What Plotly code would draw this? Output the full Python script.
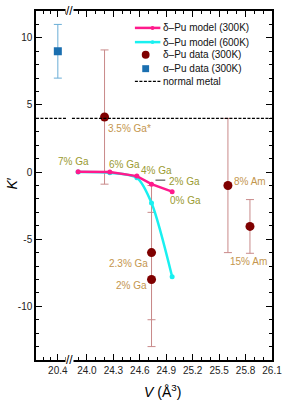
import plotly.graph_objects as go

# ---------------- data ----------------
# delta-Pu model curves (volume in A^3, K')
model_v = [23.9, 24.26, 24.567, 24.733, 24.967]
model_300k = [0.02, 0.0, -0.3, -0.9, -1.46]
model_600k = [0.0, -0.05, -0.42, -2.3, -7.8]
model_labels = ["7% Ga", "6% Ga", "4% Ga", "2% Ga", "0% Ga"]

# delta-Pu data (300K)
dpu_v = [24.2, 24.733, 24.733, 25.6, 25.85]
dpu_k = [4.1, -6.0, -8.0, -1.0, -4.05]
dpu_err = [5.0, 5.0, 5.0, 5.0, 2.0]
dpu_labels = ["3.5% Ga*", "2.3% Ga", "2% Ga", "8% Am", "15% Am"]

# alpha-Pu data (300K)
apu_v = [20.4]
apu_k = [9.0]
apu_err = [2.0]

normal_metal_k = 4.0

x_ticks_right = [24.0, 24.3, 24.6, 24.9, 25.2, 25.5, 25.8, 26.1]
x_ticks_left = [20.4]
y_ticks = [-10, -5, 0, 5, 10]

# ---------------- styling ----------------
PINK = "#ff1a8c"
CYAN = "#19f0f0"
DRED = "#7f0000"
DRED_ERR = "#c98a8a"
BLUE = "#1a6fb0"
BLUE_ERR = "#6aaed6"
OLIVE = "#9a9a30"
TAN = "#c4964e"
FONT = "Liberation Sans, Arial, sans-serif"
DASH = "3px,1.5px"

W, H = 291, 401
ML, MR, MT, MB = 36, 14, 9, 41
PW, PH = W - ML - MR, H - MT - MB
BREAK = 34 / PW  # paper fraction where the axis break sits
Y_RANGE = [-14, 12]


def px(xp):
    return (xp - ML) / PW


def py(yp):
    return (H - MB - yp) / PH


fig = go.Figure()

# delta-Pu data
fig.add_trace(go.Scatter(
    x=dpu_v, y=dpu_k, mode="markers", xaxis="x2", yaxis="y2",
    marker=dict(symbol="circle", size=9, color=DRED),
    error_y=dict(type="data", array=dpu_err, color=DRED_ERR, thickness=1, width=4),
    showlegend=False))

# alpha-Pu data
fig.add_trace(go.Scatter(
    x=apu_v, y=apu_k, mode="markers", xaxis="x", yaxis="y",
    marker=dict(symbol="square", size=8, color=BLUE),
    error_y=dict(type="data", array=apu_err, color=BLUE_ERR, thickness=1, width=4),
    showlegend=False))

# models
fig.add_trace(go.Scatter(
    x=model_v, y=model_600k, mode="lines+markers", xaxis="x2", yaxis="y2",
    line=dict(color=CYAN, width=2.5, shape="spline", smoothing=0.8),
    marker=dict(size=5, color=CYAN), showlegend=False))
fig.add_trace(go.Scatter(
    x=model_v, y=model_300k, mode="lines+markers", xaxis="x2", yaxis="y2",
    line=dict(color=PINK, width=2.5),
    marker=dict(size=5, color=PINK), showlegend=False))

shapes = []
# normal metal reference line (with gap at the axis break)
shapes.append(dict(type="line", xref="paper", yref="y", x0=0, x1=px(67),
                   y0=normal_metal_k, y1=normal_metal_k,
                   line=dict(color="black", width=1.2, dash=DASH)))
shapes.append(dict(type="line", xref="paper", yref="y", x0=px(72.7), x1=1,
                   y0=normal_metal_k, y1=normal_metal_k,
                   line=dict(color="black", width=1.2, dash=DASH)))

annotations = []
# model labels
label_pos_model = [(23.844, 0.81), (24.422, 0.57), (24.789, 0.13), (25.106, -0.67), (25.117, -2.1)]
for (lx, ly), t in zip(label_pos_model, model_labels):
    annotations.append(dict(x=lx, y=ly, xref="x2", yref="y2", text=t, showarrow=False,
                            xanchor="center", yanchor="middle",
                            font=dict(size=10, color=OLIVE, family=FONT)))
# leader dash for the 2% Ga model label
shapes.append(dict(type="line", xref="x2", yref="y2", x0=24.778, x1=24.889, y0=-0.6, y1=-0.6,
                   line=dict(color="#333333", width=1)))

# data labels
label_pos_data = [(24.478, 3.28), (24.467, -6.79), (24.511, -8.44), (25.856, -0.72), (25.833, -6.64)]
for (lx, ly), t in zip(label_pos_data, dpu_labels):
    annotations.append(dict(x=lx, y=ly, xref="x2", yref="y2", text=t, showarrow=False,
                            xanchor="center", yanchor="middle",
                            font=dict(size=10, color=TAN, family=FONT)))

# ---------------- manual legend ----------------
leg_rows = [26, 40.3, 53, 67, 79.7]
leg_text = ["δ–Pu model (300K)", "δ–Pu model (600K)", "δ–Pu data (300K)",
            "α–Pu data (300K)", "normal metal"]
lx0, lx1, ltext = 137, 163, 164
shapes.append(dict(type="line", xref="paper", yref="paper", x0=px(lx0), x1=px(lx1),
                   y0=py(leg_rows[0]), y1=py(leg_rows[0]), line=dict(color=PINK, width=2.5)))
shapes.append(dict(type="line", xref="paper", yref="paper", x0=px(lx0), x1=px(lx1),
                   y0=py(leg_rows[1]), y1=py(leg_rows[1]), line=dict(color=CYAN, width=2.5)))
for r, c in [(leg_rows[0], PINK), (leg_rows[1], CYAN)]:
    shapes.append(dict(type="circle", xref="paper", yref="paper",
                       x0=px(155 - 2), x1=px(155 + 2), y0=py(r + 2), y1=py(r - 2),
                       fillcolor=c, line=dict(width=0)))
shapes.append(dict(type="circle", xref="paper", yref="paper",
                   x0=px(148 - 4), x1=px(148 + 4), y0=py(leg_rows[2] + 4), y1=py(leg_rows[2] - 4),
                   fillcolor=DRED, line=dict(width=0)))
shapes.append(dict(type="rect", xref="paper", yref="paper",
                   x0=px(148 - 3.5), x1=px(148 + 3.5), y0=py(leg_rows[3] + 3.5), y1=py(leg_rows[3] - 3.5),
                   fillcolor=BLUE, line=dict(width=0)))
shapes.append(dict(type="line", xref="paper", yref="paper", x0=px(lx0), x1=px(lx1),
                   y0=py(leg_rows[4]), y1=py(leg_rows[4]),
                   line=dict(color="black", width=1.2, dash=DASH)))
for r, t in zip(leg_rows, leg_text):
    annotations.append(dict(x=px(ltext), y=py(r), xref="paper", yref="paper", text=t,
                            showarrow=False, xanchor="left", yanchor="middle",
                            font=dict(size=10, color="#111111", family=FONT)))

# axis break marks
for yb in (MT, H - MB):
    annotations.append(dict(x=BREAK, y=py(yb), xref="paper", yref="paper", text="//",
                            showarrow=False, xanchor="center", yanchor="middle",
                            bgcolor="white", borderpad=0,
                            font=dict(size=12, color="black", family=FONT)))

# axis titles
annotations.append(dict(x=px(11), y=py(183), xref="paper", yref="paper",
                        text="<i>K</i>′", showarrow=False, textangle=-90,
                        xanchor="center", yanchor="middle",
                        font=dict(size=14, color="black", family=FONT)))
annotations.append(dict(x=px(165), y=py(391), xref="paper", yref="paper",
                        text="<i>V</i> (Å<sup>3</sup>)", showarrow=False,
                        xanchor="center", yanchor="middle",
                        font=dict(size=14, color="black", family=FONT)))

axis_common = dict(showline=True, linecolor="black", linewidth=1.5,
                   ticks="inside", ticklen=6, tickwidth=1.2, tickcolor="black",
                   showgrid=False, zeroline=False,
                   tickfont=dict(size=10, color="#222222", family=FONT))
y_minor = dict(tickmode="linear", tick0=0, dtick=1, ticks="inside",
               ticklen=3, tickwidth=1, tickcolor="black")

fig.update_layout(
    width=W, height=H,
    margin=dict(l=ML, r=MR, t=MT, b=MB),
    paper_bgcolor="white", plot_bgcolor="white",
    showlegend=False,
    font=dict(family=FONT),
    xaxis=dict(domain=[0, BREAK], range=[20.103, 20.556], anchor="y", mirror="ticks",
               tickmode="array", tickvals=x_ticks_left,
               ticktext=[f"{v:.1f}" for v in x_ticks_left],
               minor=dict(tickmode="array", tickvals=[20.2, 20.3, 20.5], ticks="inside",
                          ticklen=3, tickwidth=1, tickcolor="black"),
               **axis_common),
    xaxis2=dict(domain=[BREAK, 1], range=[23.8, 26.1], anchor="y2", mirror="ticks",
                tickmode="array", tickvals=x_ticks_right,
                ticktext=[f"{v:.1f}" for v in x_ticks_right],
                ticklabeloverflow="allow",
                minor=dict(tickmode="linear", tick0=24.0, dtick=0.1, ticks="inside",
                           ticklen=3, tickwidth=1, tickcolor="black"),
                **axis_common),
    yaxis=dict(range=Y_RANGE, anchor="x", side="left", mirror=False,
               tickmode="array", tickvals=y_ticks, ticktext=[str(v) for v in y_ticks],
               minor=y_minor, **axis_common),
    yaxis2=dict(range=Y_RANGE, anchor="x2", side="right", mirror=False,
                tickmode="array", tickvals=y_ticks, showticklabels=False,
                minor=y_minor, **axis_common),
    shapes=shapes,
    annotations=annotations,
)

fig.write_html("out.html",
               config={"displayModeBar": False},
               post_script="document.body.style.margin='0';document.body.style.overflow='hidden';")
